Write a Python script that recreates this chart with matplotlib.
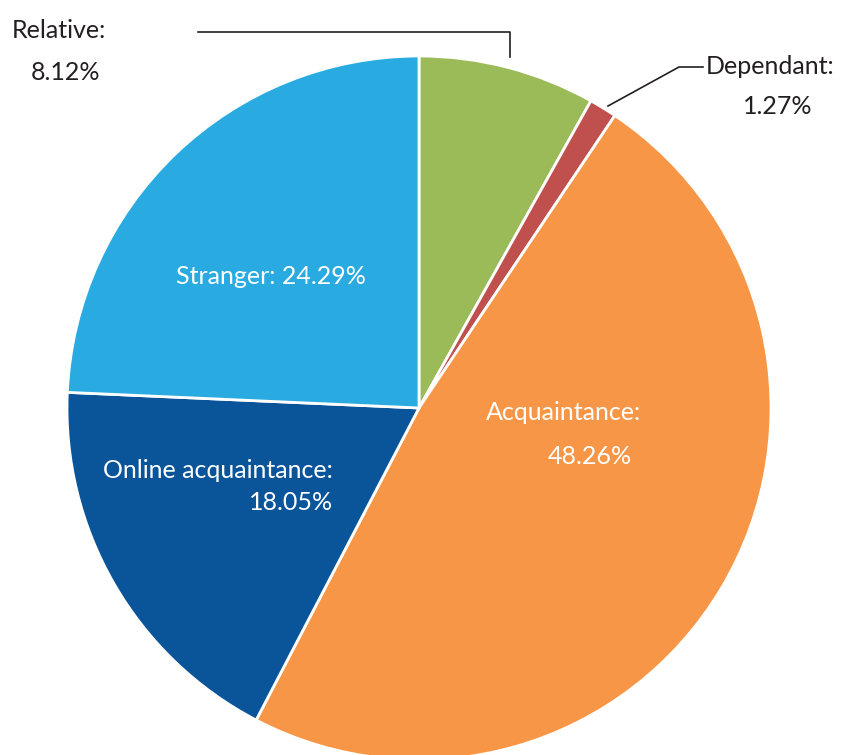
import matplotlib.pyplot as plt

# pie data (clockwise from 12 o'clock)
labels = ['Relative', 'Dependant', 'Acquaintance', 'Online acquaintance', 'Stranger']
shares = [8.12, 1.27, 48.26, 18.05, 24.29]
colors = ['#9BBB59', '#C0504D', '#F79646', '#0A5499', '#29ABE2']

plt.rcParams['font.family'] = ['Lato', 'DejaVu Sans']

W, H = 841, 755
cx, cy, R = 419, 408, 352   # pie centre / radius in pixels


def px(x, y):
    # pixel position -> data coords (pie radius = 1)
    return (x - cx) / R, (cy - y) / R


fig = plt.figure(figsize=(W / 100, H / 100), dpi=100)
ax = fig.add_axes([0, 0, 1, 1])
ax.pie(shares, colors=colors, startangle=90, counterclock=False,
       radius=1, wedgeprops=dict(edgecolor='white', linewidth=2))
ax.set_xlim(-cx / R, (W - cx) / R)
ax.set_ylim(-(H - cy) / R, cy / R)
ax.set_aspect('auto')
ax.axis('off')

fs = 18
dark = '#231F20'

# outside labels with leader lines
ax.text(*px(12, 30), labels[0] + ':', fontsize=fs, color=dark, ha='left', va='center')
ax.text(*px(65, 73), f'{shares[0]:.2f}%', fontsize=fs, color=dark, ha='center', va='center')
lx, ly = zip(px(198, 32), px(510, 32), px(510, 57))
ax.plot(lx, ly, color=dark, lw=1.2)

ax.text(*px(706, 66), labels[1] + ':', fontsize=fs, color=dark, ha='left', va='center')
ax.text(*px(778, 107), f'{shares[1]:.2f}%', fontsize=fs, color=dark, ha='center', va='center')
lx, ly = zip(px(608, 106), px(679, 67), px(703, 67))
ax.plot(lx, ly, color=dark, lw=1.2)

# inside labels
ax.text(*px(271, 277), f'{labels[4]}: {shares[4]:.2f}%', fontsize=fs, color='white',
        ha='center', va='center')
ax.text(*px(486, 413), labels[2] + ':', fontsize=fs, color='white', ha='left', va='center')
ax.text(*px(632, 457), f'{shares[2]:.2f}%', fontsize=fs, color='white', ha='right', va='center')
ax.text(*px(333, 470), labels[3] + ':', fontsize=fs, color='white', ha='right', va='center')
ax.text(*px(333, 502), f'{shares[3]:.2f}%', fontsize=fs, color='white', ha='right', va='center')

fig.savefig('out.png', dpi=100)
